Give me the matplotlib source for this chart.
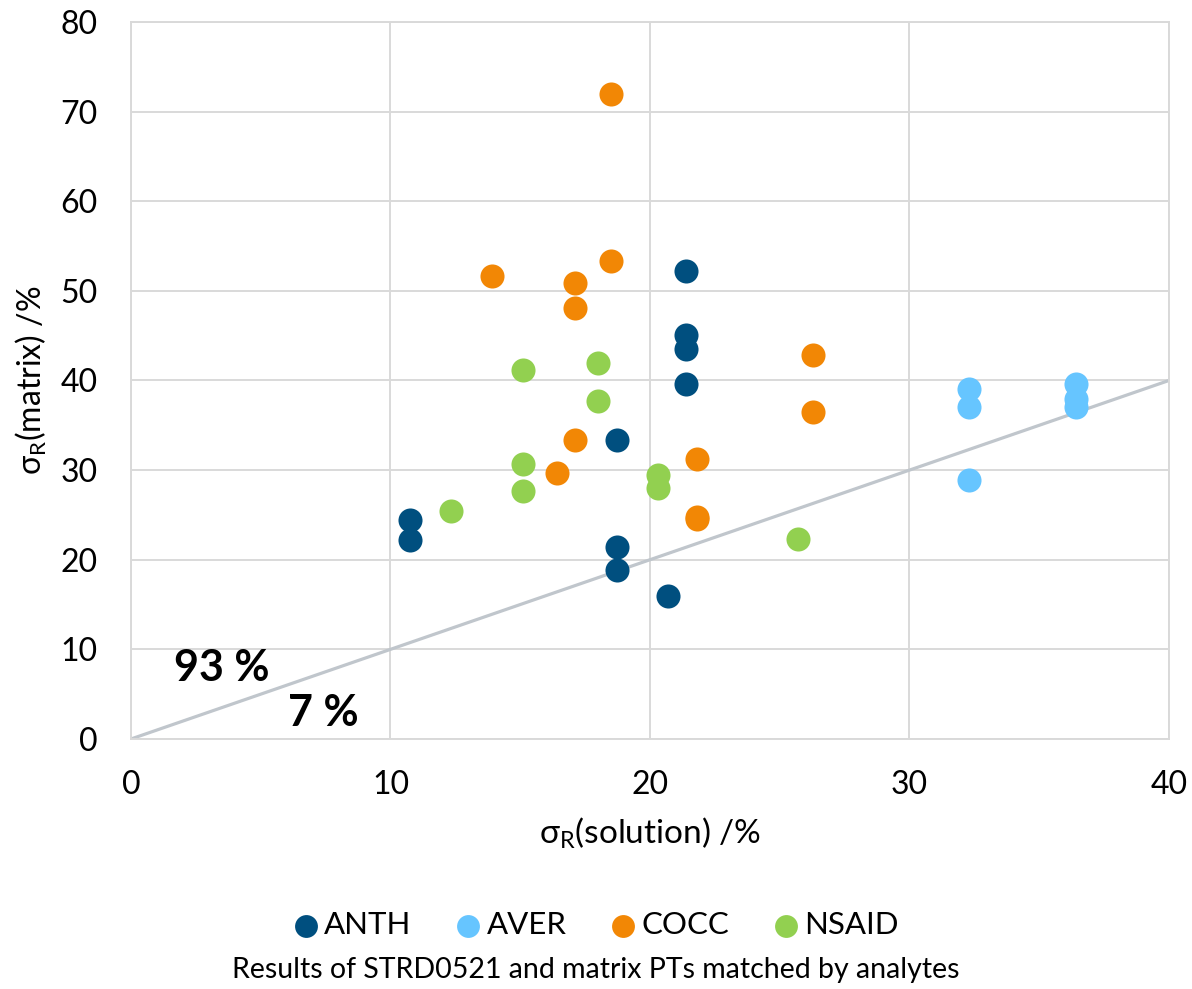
import matplotlib
matplotlib.use("Agg")
import matplotlib.pyplot as plt

plt.rcParams['font.family'] = ['Lato', 'DejaVu Sans']
plt.rcParams['mathtext.fontset'] = 'custom'
plt.rcParams['mathtext.rm'] = 'Lato'
plt.rcParams['mathtext.it'] = 'Lato:italic'

anth_x = [10.75, 10.75, 18.73, 18.73, 18.73, 20.69, 21.39, 21.39, 21.39, 21.39]
anth_y = [24.4, 22.2, 33.4, 21.4, 18.9, 16.0, 52.2, 45.1, 43.5, 39.6]
aver_x = [32.3, 32.3, 32.3, 36.4, 36.4, 36.4]
aver_y = [39.0, 37.0, 28.9, 39.6, 37.9, 37.0]
cocc_x = [18.5, 13.9, 17.1, 17.1, 18.5, 17.1, 16.4, 21.8, 21.8, 21.8, 26.3, 26.3]
cocc_y = [72.0, 51.7, 50.9, 48.1, 53.3, 33.4, 29.7, 31.2, 24.8, 24.5, 42.8, 36.5]
nsaid_x = [12.33, 15.1, 15.1, 15.1, 18.0, 18.0, 20.3, 20.3, 25.7]
nsaid_y = [25.4, 30.7, 27.7, 41.2, 42.0, 37.7, 29.5, 28.0, 22.3]

series = [
    ("ANTH", anth_x, anth_y, "#004F7F"),
    ("AVER", aver_x, aver_y, "#66C5FF"),
    ("COCC", cocc_x, cocc_y, "#F28705"),
    ("NSAID", nsaid_x, nsaid_y, "#92D050"),
]

line_x = [0, 40]
line_y = [0, 40]

fig = plt.figure(figsize=(11.92, 9.89), dpi=100)
ax = fig.add_axes([0.1099, 0.2528, 0.8708, 0.725])

ax.plot(line_x, line_y, color="#C0C6CC", lw=2.3, zorder=2)
for name, xs, ys, c in series:
    ax.scatter(xs, ys, s=300, color=c, label=name, zorder=3, linewidths=0)

ax.set_xlim(0, 40)
ax.set_ylim(0, 80)
ax.set_xticks(range(0, 41, 10))
ax.set_yticks(range(0, 81, 10))
ax.grid(True, color="#D9D9D9", lw=1.4, zorder=0)
ax.set_axisbelow(True)
for sp in ax.spines.values():
    sp.set_color("#D9D9D9")
    sp.set_linewidth(1.4)
ax.tick_params(length=0, labelsize=23)
ax.tick_params(axis='x', pad=22)
ax.tick_params(axis='y', pad=24)

ax.set_xlabel(r"σ$_\mathrm{R}$(solution) /%", fontsize=24, labelpad=12)
ax.set_ylabel(r"σ$_\mathrm{R}$(matrix) /%", fontsize=23, labelpad=8)

ax.text(3.5, 7.9, "93 %", fontsize=31, fontweight="bold", ha="center", va="center")
ax.text(7.4, 2.9, "7 %", fontsize=31, fontweight="bold", ha="center", va="center")

leg = fig.legend(loc="center", bbox_to_anchor=(0.5, 0.065), ncol=4, frameon=False,
                 fontsize=22.5, handlelength=0.8, handletextpad=0.2,
                 columnspacing=1.4, markerscale=0.95)
fig.text(0.5, 0.019, "Results of STRD0521 and matrix PTs matched by analytes",
         ha="center", va="center", fontsize=20.5)

fig.savefig("out.png", dpi=100)
